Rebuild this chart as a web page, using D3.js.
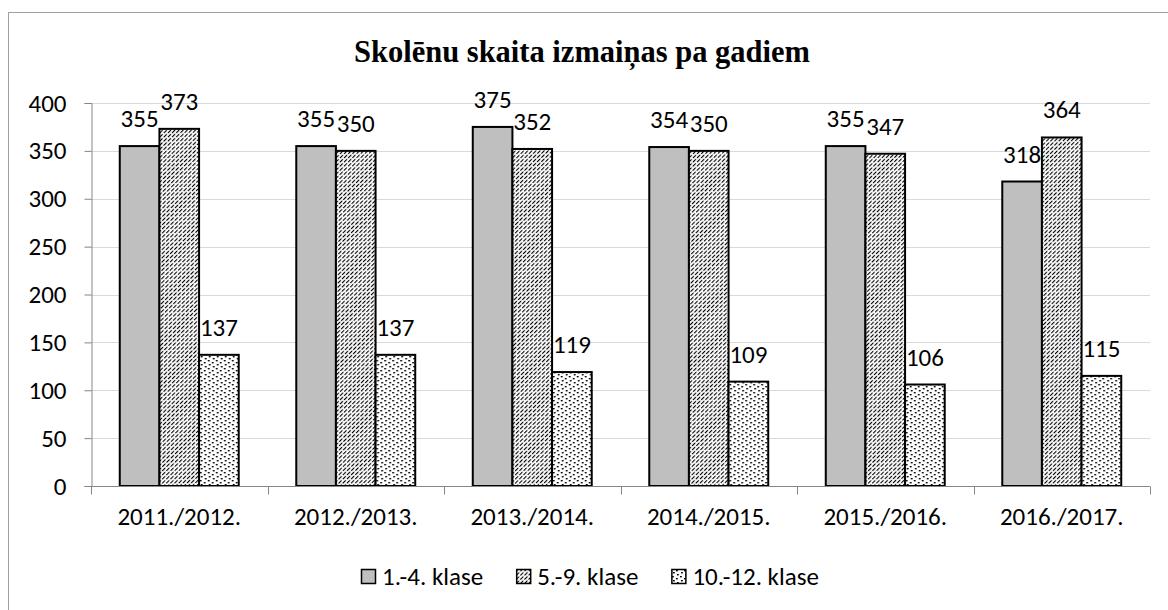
<!DOCTYPE html>
<html>
<head>
<meta charset="utf-8">
<script src="https://cdn.jsdelivr.net/npm/d3@7"></script>
<style>
  body { margin: 0; background: white; }
  svg { display: block; }
</style>
</head>
<body>
<svg id="chart"></svg>
<script>
const years = ["2011./2012.", "2012./2013.", "2013./2014.", "2014./2015.", "2015./2016.", "2016./2017."];
const seriesNames = ["1.-4. klase", "5.-9. klase", "10.-12. klase"];
const klase1_4 = [355, 355, 375, 354, 355, 318];
const klase5_9 = [373, 350, 352, 350, 347, 364];
const klase10_12 = [137, 137, 119, 109, 106, 115];
const yTicks = [0, 50, 100, 150, 200, 250, 300, 350, 400];

const seriesValues = [klase1_4, klase5_9, klase10_12];
const fills = ["#bfbfbf", "url(#hatch)", "url(#dots)"];

const width = 1168, height = 610;
const margin = {top: 103, right: 18, bottom: 124, left: 91};
const font = "Carlito, Calibri, Lato, sans-serif";
const fontSize = 25;

const svg = d3.select("#chart")
  .attr("width", width)
  .attr("height", height);

const defs = svg.append("defs");

// dashed upward diagonal: staggered horizontal dashes rotated by -45deg
const hatch = defs.append("pattern")
  .attr("id", "hatch")
  .attr("patternUnits", "userSpaceOnUse")
  .attr("width", 6).attr("height", 5.8)
  .attr("patternTransform", "rotate(-45)");
hatch.append("rect").attr("width", 6).attr("height", 5.8).attr("fill", "white");
hatch.append("rect").attr("x", 0).attr("y", 0).attr("width", 4.4).attr("height", 1.1).attr("fill", "black");
hatch.append("rect").attr("x", 3).attr("y", 2.9).attr("width", 4.4).attr("height", 1.1).attr("fill", "black");
hatch.append("rect").attr("x", -3).attr("y", 2.9).attr("width", 4.4).attr("height", 1.1).attr("fill", "black");

// small confetti dots
const dotRows = ["10000000", "00000000", "00001000", "00000000", "01000000", "00000000", "00000100", "00000000"];
const dots = defs.append("pattern")
  .attr("id", "dots")
  .attr("patternUnits", "userSpaceOnUse")
  .attr("width", 8).attr("height", 8);
dots.append("rect").attr("width", 8).attr("height", 8).attr("fill", "white");
dotRows.forEach((row, yy) => {
  row.split("").forEach((c, xx) => {
    if (c === "1") dots.append("rect").attr("x", xx).attr("y", yy).attr("width", 1.8).attr("height", 1.4).attr("fill", "black");
  });
});

// outer frame (cut off at right / bottom like the original)
svg.append("rect")
  .attr("x", 8.5).attr("y", 12.5)
  .attr("width", 1300).attr("height", 800)
  .attr("fill", "none")
  .attr("stroke", "#a0a0a0")
  .attr("stroke-width", 1);

svg.append("text")
  .attr("x", 582).attr("y", 62)
  .attr("text-anchor", "middle")
  .attr("font-family", "'Liberation Serif', 'Times New Roman', serif")
  .attr("font-weight", "bold")
  .attr("font-size", 30.5)
  .attr("fill", "black")
  .text("Skolēnu skaita izmaiņas pa gadiem");

const x0 = d3.scaleBand()
  .domain(years)
  .range([margin.left, width - margin.right])
  .paddingInner(0.326)
  .paddingOuter(0.163);
const x1 = d3.scaleBand()
  .domain(d3.range(seriesNames.length))
  .range([0, x0.bandwidth()]);
const y = d3.scaleLinear()
  .domain([0, 400])
  .range([height - margin.bottom, margin.top]);

// gridlines
svg.append("g")
  .selectAll("line")
  .data(yTicks.filter(d => d > 0))
  .join("line")
  .attr("x1", margin.left).attr("x2", width - margin.right)
  .attr("y1", d => Math.round(y(d)) + 0.5).attr("y2", d => Math.round(y(d)) + 0.5)
  .attr("stroke", "#d9d9d9")
  .attr("stroke-width", 1);

// y axis
const yAxis = svg.append("g")
  .attr("transform", `translate(${margin.left + 0.5},0)`)
  .call(d3.axisLeft(y).tickValues(yTicks).tickSize(7).tickPadding(18));
yAxis.select(".domain").attr("stroke", "#868686");
yAxis.selectAll(".tick line").attr("stroke", "#868686");
yAxis.selectAll(".tick text")
  .attr("font-family", font)
  .attr("font-size", fontSize)
  .attr("fill", "black");

// bars
const groups = svg.append("g")
  .selectAll("g")
  .data(years)
  .join("g")
  .attr("transform", d => `translate(${x0(d)},0)`);

groups.selectAll("rect")
  .data((d, i) => seriesValues.map((s, k) => ({k: k, v: s[i]})))
  .join("rect")
  .attr("x", d => x1(d.k))
  .attr("y", d => y(d.v))
  .attr("width", x1.bandwidth())
  .attr("height", d => y(0) - y(d.v))
  .attr("fill", d => fills[d.k])
  .attr("stroke", "black")
  .attr("stroke-width", 2);

groups.selectAll("text")
  .data((d, i) => seriesValues.map((s, k) => ({k: k, v: s[i]})))
  .join("text")
  .attr("x", d => x1(d.k) + x1.bandwidth() / 2)
  .attr("y", d => y(d.v) - 19)
  .attr("text-anchor", "middle")
  .attr("font-family", font)
  .attr("font-size", fontSize)
  .attr("fill", "black")
  .text(d => d.v);

// x axis
const baseY = Math.round(y(0)) + 0.5;
svg.append("line")
  .attr("x1", margin.left).attr("x2", width - margin.right)
  .attr("y1", baseY).attr("y2", baseY)
  .attr("stroke", "#868686");
const bounds = years.map(d => x0(d) - x0.step() * x0.paddingInner() / 2).concat([width - margin.right]);
svg.append("g")
  .selectAll("line")
  .data(bounds)
  .join("line")
  .attr("x1", d => Math.round(d) + 0.5).attr("x2", d => Math.round(d) + 0.5)
  .attr("y1", baseY).attr("y2", baseY + 8)
  .attr("stroke", "#868686");
svg.append("g")
  .selectAll("text")
  .data(years)
  .join("text")
  .attr("x", d => x0(d) + x0.bandwidth() / 2)
  .attr("y", 525)
  .attr("text-anchor", "middle")
  .attr("font-family", font)
  .attr("font-size", fontSize)
  .attr("fill", "black")
  .text(d => d);

// legend
const legend = svg.append("g");
let lx = 361;
seriesNames.forEach((name, k) => {
  legend.append("rect")
    .attr("x", lx + 0.5).attr("y", 569.5)
    .attr("width", 14).attr("height", 14)
    .attr("fill", fills[k])
    .attr("stroke", "black")
    .attr("stroke-width", 1.5);
  const t = legend.append("text")
    .attr("x", lx + 21).attr("y", 585)
    .attr("font-family", font)
    .attr("font-size", fontSize)
    .attr("fill", "black")
    .text(name);
  lx += 21 + t.node().getComputedTextLength() + 33;
});
</script>
</body>
</html>
